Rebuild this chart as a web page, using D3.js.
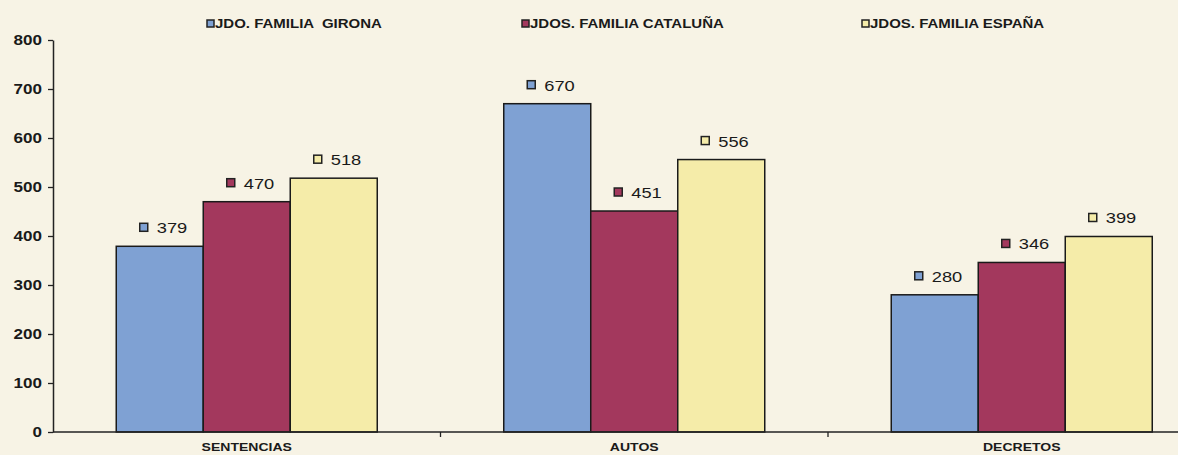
<!DOCTYPE html>
<html>
<head>
<meta charset="utf-8">
<script src="https://cdn.jsdelivr.net/npm/d3@7"></script>
<style>
  html, body { margin: 0; padding: 0; background: #f7f3e5; }
  svg { display: block; font-family: "Liberation Sans", Arial, sans-serif; }
</style>
</head>
<body>
<div id="chart"></div>
<script>
// Data
const categories = ['SENTENCIAS', 'AUTOS', 'DECRETOS'];
const series = ['JDO. FAMILIA  GIRONA', 'JDOS. FAMILIA CATALUÑA', 'JDOS. FAMILIA ESPAÑA'];
const girona = [379, 670, 280];
const cataluna = [470, 451, 346];
const espana = [518, 556, 399];
const yTicks = [0, 100, 200, 300, 400, 500, 600, 700, 800];
const colors = ['#7fa1d3', '#a3385d', '#f5eca9'];

const width = 1178, height = 455;
const values = [girona, cataluna, espana];
// the scanned chart's lettering is stretched sideways
const stretch = 1.22;

const svg = d3.select('#chart').append('svg')
    .attr('width', width)
    .attr('height', height);

svg.append('rect').attr('width', width).attr('height', height).attr('fill', '#f7f3e5');

// Scales
const axisX = 53, baseY = 432;
const x0 = d3.scaleBand().domain(categories).range([axisX, axisX + 3 * 387.5]);
const x1 = d3.scaleBand().domain(d3.range(series.length))
    .range([0, x0.bandwidth()]).paddingInner(0).paddingOuter(0.727);
const y = d3.scaleLinear().domain([0, 800]).range([baseY, 40]);

// Bars
const groups = svg.append('g').selectAll('g')
    .data(categories)
    .enter().append('g')
    .attr('transform', d => `translate(${x0(d)},0)`);

groups.each(function (cat, ci) {
    const g = d3.select(this);
    series.forEach((s, si) => {
        const v = values[si][ci];
        g.append('rect')
            .attr('x', x1(si))
            .attr('y', y(v))
            .attr('width', x1.bandwidth())
            .attr('height', y(0) - y(v))
            .attr('fill', colors[si])
            .attr('stroke', '#1a1a1a')
            .attr('stroke-width', 1.5);

        // value label with legend key
        const cx = x1(si) + x1.bandwidth() / 2;
        const lab = g.append('g').attr('transform', `translate(${cx},${y(v) - 13})`);
        lab.append('rect')
            .attr('x', -20).attr('y', -10)
            .attr('width', 8).attr('height', 8)
            .attr('fill', colors[si])
            .attr('stroke', '#222').attr('stroke-width', 1.5);
        lab.append('text')
            .attr('transform', `translate(-3,0) scale(${stretch},1)`)
            .attr('font-size', '15px')
            .attr('fill', '#1a1a1a')
            .text(v);
    });
});

// Y axis
const yAxis = svg.append('g')
    .attr('transform', `translate(${axisX},0)`)
    .call(d3.axisLeft(y).tickValues(yTicks).tickSize(5).tickPadding(4).tickSizeOuter(0));
yAxis.select('.domain').attr('stroke', '#222').attr('stroke-width', 1.5);
yAxis.selectAll('.tick line').attr('stroke', '#222').attr('stroke-width', 1.3);
yAxis.selectAll('.tick text')
    .attr('transform', 'scale(1.22,1)')
    .attr('font-size', '14px')
    .attr('font-weight', 'bold')
    .attr('fill', '#1a1a1a')
    .attr('font-family', '"Liberation Sans", Arial, sans-serif');

// X axis
svg.append('line')
    .attr('x1', axisX).attr('x2', width)
    .attr('y1', baseY).attr('y2', baseY)
    .attr('stroke', '#222').attr('stroke-width', 1.5);
svg.append('g').selectAll('line')
    .data(categories.slice(1))
    .enter().append('line')
    .attr('x1', d => x0(d)).attr('x2', d => x0(d))
    .attr('y1', baseY).attr('y2', baseY + 5)
    .attr('stroke', '#222').attr('stroke-width', 1.3);
svg.append('g').selectAll('text')
    .data(categories)
    .enter().append('text')
    .attr('transform', d => `translate(${x0(d) + x0.bandwidth() / 2},451) scale(${stretch},1)`)
    .attr('text-anchor', 'middle')
    .attr('font-size', '11.5px')
    .attr('font-weight', 'bold')
    .attr('fill', '#1a1a1a')
    .text(d => d);

// Legend
const legendX = [207, 522, 862];
const legend = svg.append('g').selectAll('g')
    .data(series)
    .enter().append('g')
    .attr('transform', (d, i) => `translate(${legendX[i]},28)`);
legend.append('rect')
    .attr('x', 0).attr('y', -8)
    .attr('width', 7).attr('height', 7)
    .attr('fill', (d, i) => colors[i])
    .attr('stroke', '#222').attr('stroke-width', 1.5);
legend.append('text')
    .attr('transform', `translate(8,0) scale(1.25,1)`)
    .attr('font-size', '12px')
    .attr('font-weight', 'bold')
    .attr('fill', '#1a1a1a')
    .attr('xml:space', 'preserve')
    .style('white-space', 'pre')
    .text(d => d);
</script>
</body>
</html>
